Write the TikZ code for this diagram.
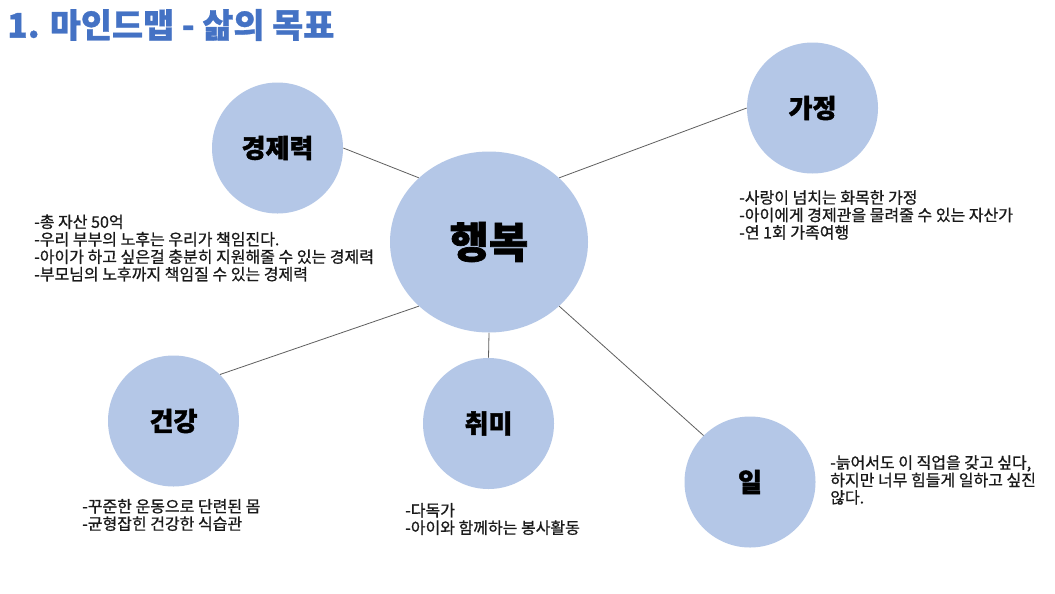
\documentclass[tikz,border=0pt]{standalone}
\usepackage{fontspec}
\setmainfont{Noto Sans CJK KR}
\newfontfamily\heavyfont{Noto Sans CJK KR}[BoldFeatures={FakeBold=1.6}]
\newfontfamily\titlefont{Noto Sans CJK KR}[BoldFeatures={FakeBold=0.8}]
\newfontfamily\notefont{Noto Sans CJK KR}[FakeBold=0.9]
\usetikzlibrary{shapes.geometric}
\definecolor{bubble}{HTML}{B4C7E7}
\definecolor{titleblue}{HTML}{4472C4}
\definecolor{linegray}{HTML}{5F5F5F}
\definecolor{notetext}{HTML}{1A1A1A}
\begin{document}
\begin{tikzpicture}[x=0.75pt,y=-0.75pt,
  bubble/.style={circle,fill=bubble,minimum size=98.25pt,inner sep=0pt,font=\heavyfont\bfseries\fontsize{19.5}{22}\selectfont},
  hub/.style={ellipse,fill=bubble,minimum width=148.5pt,minimum height=135.75pt,inner sep=0pt,font=\heavyfont\bfseries\fontsize{32}{36}\selectfont},
  link/.style={draw=linegray,line width=0.6pt},
  note/.style={anchor=west,align=left,inner sep=0pt,text=notetext,font=\notefont\fontsize{12}{13.1}\selectfont},
  heading/.style={anchor=west,inner sep=0pt,text=titleblue,font=\titlefont\bfseries\fontsize{25.3}{29}\selectfont}
]
\useasboundingbox (0,0) rectangle (1055,593);
\fill[white] (0,0) rectangle (1055,593);

\node[heading] (title) at (7,25) {1. 마인드맵 - 삶의 목표};

\node[hub] (hub) at (489,242) {행복};
\node[bubble] (money) at (277.5,148) {경제력};
\node[bubble] (family) at (812.5,108) {가정};
\node[bubble] (health) at (173.5,421) {건강};
\node[bubble] (hobby) at (488.5,423.5) {취미};
\node[bubble] (work) at (750,482) {일};

\draw[link] (money.east) -- (hub.north west);
\draw[link] (hub.north east) -- (family.west);
\draw[link] (hub.south west) -- (health.north east);
\draw[link] (hub.south) -- (hobby.north);
\draw[link] (hub.south east) -- (work.north west);

\node[note] (moneynote) at (34,248) {-총 자산 50억\\-우리 부부의 노후는 우리가 책임진다.\\-아이가 하고 싶은걸 충분히 지원해줄 수 있는 경제력\\-부모님의 노후까지 책임질 수 있는 경제력};
\node[note] (familynote) at (739,215) {-사랑이 넘치는 화목한 가정\\-아이에게 경제관을 물려줄 수 있는 자산가\\-연 1회 가족여행};
\node[note] (healthnote) at (82,515) {-꾸준한 운동으로 단련된 몸\\-균형잡힌 건강한 식습관};
\node[note] (hobbynote) at (405,519) {-다독가\\-아이와 함께하는 봉사활동};
\node[note] (worknote) at (830,480) {-늙어서도 이 직업을 갖고 싶다,\\하지만 너무 힘들게 일하고 싶진\\않다.};
\end{tikzpicture}
\end{document}
